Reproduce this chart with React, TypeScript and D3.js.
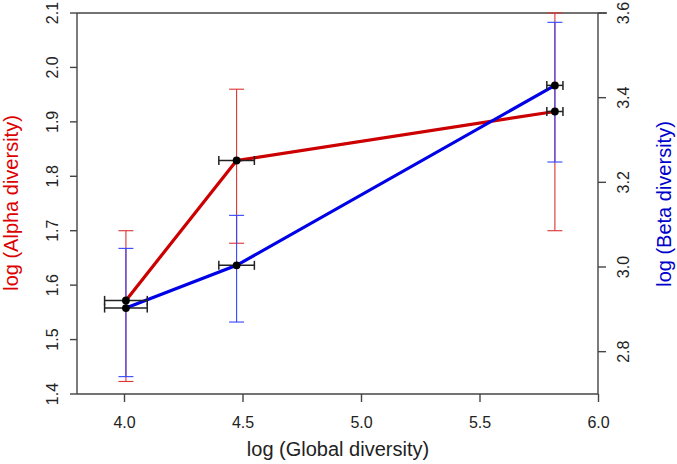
import React from "react";
import * as d3 from "d3";

// values
const globalDiv = [4.006, 4.473, 5.816];
const globalErr = [0.09, 0.075, 0.034];
const alpha = [1.572, 1.829, 1.919];
const alphaLo = [1.423, 1.677, 1.7];
const alphaHi = [1.7, 1.96, 2.1];
const beta = [2.903, 3.004, 3.429];
const betaLo = [2.741, 2.87, 3.248];
const betaHi = [3.044, 3.122, 3.578];

const xTicks = [4.0, 4.5, 5.0, 5.5, 6.0];
const alphaTicks = [1.4, 1.5, 1.6, 1.7, 1.8, 1.9, 2.0, 2.1];
const betaTicks = [2.8, 3.0, 3.2, 3.4, 3.6];

const W = 677;
const H = 464;
const left = 77;
const right = 598;
const top = 13;
const bottom = 394;

const font = "'Liberation Sans', Arial, sans-serif";

export default function App() {
  const x = d3.scaleLinear().domain([4.0, 6.0]).range([124.5, 598.5]);
  const yA = d3.scaleLinear().domain([1.4, 2.1]).range([bottom, top]);
  const yB = d3.scaleLinear().domain([2.7, 3.6]).range([bottom, top]);

  const line = (ys: number[], y: d3.ScaleLinear<number, number>) =>
    d3
      .line<number>()
      .x((_, i) => x(globalDiv[i]))
      .y((d) => y(d))(ys) as string;

  const vErr = (
    lo: number[],
    hi: number[],
    y: d3.ScaleLinear<number, number>,
    color: string
  ) =>
    globalDiv.map((g, i) => {
      const cx = x(g);
      return (
        <g key={i} stroke={color} strokeWidth={1.1}>
          <line x1={cx} x2={cx} y1={y(lo[i])} y2={y(hi[i])} />
          <line x1={cx - 7.5} x2={cx + 7.5} y1={y(lo[i])} y2={y(lo[i])} />
          <line x1={cx - 7.5} x2={cx + 7.5} y1={y(hi[i])} y2={y(hi[i])} />
        </g>
      );
    });

  const hErr = (ys: number[], y: d3.ScaleLinear<number, number>) =>
    globalDiv.map((g, i) => {
      const cy = y(ys[i]);
      const x0 = x(g - globalErr[i]);
      const x1 = x(g + globalErr[i]);
      return (
        <g key={i} stroke="#222" strokeWidth={1.5}>
          <line x1={x0} x2={x1} y1={cy} y2={cy} />
          <line x1={x0} x2={x0} y1={cy - 4.5} y2={cy + 4.5} />
          <line x1={x1} x2={x1} y1={cy - 4.5} y2={cy + 4.5} />
        </g>
      );
    });

  return (
    <svg
      width={W}
      height={H}
      style={{ position: "absolute", left: 0, top: 0, background: "#fff" }}
      fontFamily={font}
    >
      {/* frame */}
      <g stroke="#444" strokeWidth={1.4} fill="none">
        <line x1={left} x2={left} y1={top} y2={bottom} />
        <line x1={left} x2={right} y1={bottom} y2={bottom} />
        <line x1={right} x2={right} y1={top} y2={bottom} />
        <line x1={left} x2={607} y1={top} y2={top} />
      </g>

      {/* bottom axis */}
      {xTicks.map((t) => (
        <g key={t}>
          <line x1={x(t)} x2={x(t)} y1={bottom} y2={bottom + 8} stroke="#444" strokeWidth={1.4} />
          <text x={x(t)} y={427.5} textAnchor="middle" fontSize={16} fill="#222">
            {t.toFixed(1)}
          </text>
        </g>
      ))}
      <text x={338} y={456} textAnchor="middle" fontSize={20} fill="#222">
        log (Global diversity)
      </text>

      {/* left axis */}
      {alphaTicks.map((t) => (
        <g key={t}>
          <line x1={left - 7} x2={left} y1={yA(t)} y2={yA(t)} stroke="#444" strokeWidth={1.4} />
          <text
            transform={`translate(58,${yA(t)}) rotate(-90)`}
            textAnchor="middle"
            fontSize={16}
            fill="#222"
          >
            {t.toFixed(1)}
          </text>
        </g>
      ))}
      <text
        transform="translate(18,203) rotate(-90)"
        textAnchor="middle"
        fontSize={20}
        fill="#dd0000"
      >
        log (Alpha diversity)
      </text>

      {/* right axis */}
      {betaTicks.map((t) => (
        <g key={t}>
          <line x1={right} x2={right + 8} y1={yB(t)} y2={yB(t)} stroke="#444" strokeWidth={1.4} />
          <text
            transform={`translate(629,${yB(t)}) rotate(-90)`}
            textAnchor="middle"
            fontSize={16}
            fill="#222"
          >
            {t.toFixed(1)}
          </text>
        </g>
      ))}
      <text
        transform="translate(671,204) rotate(-90)"
        textAnchor="middle"
        fontSize={20}
        fill="#0000cc"
      >
        log (Beta diversity)
      </text>

      {/* vertical error bars */}
      {vErr(alphaLo, alphaHi, yA, "#dd3333")}
      {vErr(betaLo, betaHi, yB, "#3344ff")}

      {/* lines */}
      <path d={line(alpha, yA)} fill="none" stroke="#cc0000" strokeWidth={3.2} />
      <path d={line(beta, yB)} fill="none" stroke="#0000e6" strokeWidth={3.2} />

      {/* horizontal error bars */}
      {hErr(alpha, yA)}
      {hErr(beta, yB)}

      {/* points */}
      {globalDiv.map((g, i) => (
        <g key={i} fill="#000">
          <circle cx={x(g)} cy={yA(alpha[i])} r={3.9} />
          <circle cx={x(g)} cy={yB(beta[i])} r={3.9} />
        </g>
      ))}
    </svg>
  );
}
